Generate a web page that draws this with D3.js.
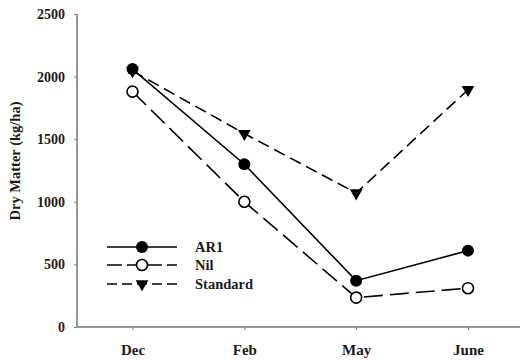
<!DOCTYPE html>
<html><head><meta charset="utf-8">
<script src="https://cdn.jsdelivr.net/npm/d3@7"></script>
<style>
body{margin:0;background:#fff;}
text{font-family:"Liberation Serif","Times New Roman",serif;font-weight:bold;fill:#1a1a1a;}
</style></head>
<body>
<svg id="c" width="520" height="360"></svg>
<script>
const categories = ["Dec","Feb","May","June"];
const ar1 = [2060, 1300, 370, 610];
const nil = [1880, 1000, 235, 310];
const standard = [2045, 1545, 1070, 1895];
const yTicks = [0, 500, 1000, 1500, 2000, 2500];
const seriesNames = ["AR1","Nil","Standard"];

const svg = d3.select("#c");
const x = d3.scalePoint().domain(categories).range([132.5, 468]);
const y = d3.scaleLinear().domain([0, 2500]).range([327, 14]);

const axisColor = "#777";
const gy = svg.append("g").attr("transform","translate(77,0)")
  .call(d3.axisLeft(y).tickValues(yTicks).tickSize(3).tickPadding(9).tickFormat(d3.format("d")));
gy.select(".domain").attr("stroke",axisColor).attr("stroke-width",1.5).attr("d","M0,14V327");
gy.selectAll(".tick line").attr("stroke",axisColor).attr("stroke-width",1);
gy.selectAll(".tick text").style("font-size","14px").style("font-family","Liberation Serif").style("font-weight","bold").attr("fill","#1a1a1a");

const gx = svg.append("g").attr("transform","translate(0,327)")
  .call(d3.axisBottom(x).tickSize(3).tickPadding(14));
gx.select(".domain").attr("stroke",axisColor).attr("stroke-width",1.5).attr("d","M77,0H520");
gx.selectAll(".tick line").attr("stroke",axisColor).attr("stroke-width",1);
gx.selectAll(".tick text").style("font-size","15px").style("font-family","Liberation Serif").style("font-weight","bold").attr("fill","#1a1a1a");

svg.append("text").attr("transform","translate(20,161) rotate(-90)")
  .attr("text-anchor","middle").style("font-size","14.5px").text("Dry Matter (kg/ha)");

const line = d3.line().x((d,i)=>x(categories[i])).y(d=>y(d));
const styles = {
  "AR1": {data: ar1, dash: null},
  "Nil": {data: nil, dash: "19,7"},
  "Standard": {data: standard, dash: "12,6"}
};
const tri = d3.symbol().type(d3.symbolTriangle).size(70);

function drawMarker(g, name, cx, cy){
  if(name==="AR1"){
    g.append("circle").attr("cx",cx).attr("cy",cy).attr("r",6).attr("fill","#000");
  } else if(name==="Nil"){
    g.append("circle").attr("cx",cx).attr("cy",cy).attr("r",5.5).attr("fill","#fff").attr("stroke","#000").attr("stroke-width",1.6);
  } else {
    g.append("path").attr("d",tri).attr("transform",`translate(${cx},${cy}) rotate(180)`).attr("fill","#000");
  }
}

["Standard","Nil","AR1"].forEach(name=>{
  const s = styles[name];
  const g = svg.append("g");
  g.append("path").attr("d",line(s.data)).attr("fill","none").attr("stroke","#000")
    .attr("stroke-width",1.6).attr("stroke-dasharray",s.dash);
  s.data.forEach((v,i)=>drawMarker(g,name,x(categories[i]),y(v)));
});

const legY = [247, 265, 284];
const legDash = {"AR1": null, "Nil": "15,5", "Standard": "10,5"};
seriesNames.forEach((name,i)=>{
  const g = svg.append("g");
  g.append("line").attr("x1",107).attr("x2",177).attr("y1",legY[i]).attr("y2",legY[i])
    .attr("stroke","#000").attr("stroke-width",1.6).attr("stroke-dasharray",legDash[name]);
  drawMarker(g,name,142,legY[i]);
  g.append("text").attr("x",195).attr("y",legY[i]).attr("dy","0.35em").style("font-size","14.5px").text(name);
});
</script>
</body></html>
